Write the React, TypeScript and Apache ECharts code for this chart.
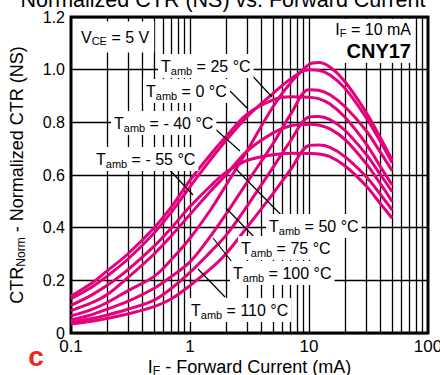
import React, { useEffect, useRef } from "react";
import * as echarts from "echarts";

// Forward current (mA) sample points shared by all curves
const IF_MA = [0.1, 0.15, 0.2, 0.3, 0.5, 0.7, 1, 1.5, 2, 3, 5, 7, 10, 12, 15, 20, 30, 40, 50];

// Normalized CTR values
const CTR_0 = [0.14, 0.19, 0.235, 0.3, 0.4, 0.48, 0.58, 0.68, 0.745, 0.83, 0.885, 0.897, 0.895, 0.89, 0.87, 0.82, 0.72, 0.63, 0.562];
const CTR_25 = [0.13, 0.175, 0.215, 0.28, 0.38, 0.46, 0.555, 0.66, 0.73, 0.82, 0.91, 0.965, 1.0, 0.998, 0.98, 0.93, 0.82, 0.725, 0.646];
const CTR_M55 = [0.105, 0.145, 0.18, 0.24, 0.33, 0.4, 0.48, 0.56, 0.61, 0.655, 0.677, 0.683, 0.682, 0.68, 0.67, 0.635, 0.56, 0.49, 0.436];
const CTR_M40 = [0.085, 0.115, 0.145, 0.21, 0.3, 0.37, 0.45, 0.54, 0.6, 0.69, 0.76, 0.787, 0.793, 0.79, 0.775, 0.735, 0.645, 0.565, 0.499];
const CTR_50 = [0.065, 0.09, 0.115, 0.16, 0.215, 0.28, 0.36, 0.47, 0.56, 0.69, 0.86, 0.95, 1.02, 1.027, 1.01, 0.955, 0.84, 0.74, 0.657];
const CTR_75 = [0.05, 0.07, 0.09, 0.12, 0.17, 0.215, 0.27, 0.37, 0.45, 0.57, 0.72, 0.83, 0.924, 0.922, 0.905, 0.86, 0.77, 0.685, 0.616];
const CTR_100 = [0.042, 0.055, 0.068, 0.09, 0.125, 0.17, 0.23, 0.31, 0.37, 0.48, 0.63, 0.73, 0.82, 0.822, 0.81, 0.77, 0.68, 0.6, 0.537];
const CTR_110 = [0.035, 0.045, 0.055, 0.072, 0.1, 0.13, 0.18, 0.245, 0.3, 0.4, 0.53, 0.62, 0.712, 0.714, 0.705, 0.67, 0.595, 0.525, 0.467];

const SERIES = [
  { name: "-55", values: CTR_M55 },
  { name: "-40", values: CTR_M40 },
  { name: "0", values: CTR_0 },
  { name: "25", values: CTR_25 },
  { name: "50", values: CTR_50 },
  { name: "75", values: CTR_75 },
  { name: "100", values: CTR_100 },
  { name: "110", values: CTR_110 },
];

// Vertical log grid lines (mA)
const X_GRID = [0.2, 0.3, 0.4, 0.5, 0.6, 0.7, 0.8, 0.9, 1, 2, 3, 4, 5, 6, 7, 8, 9, 10, 20, 30, 40, 50, 60, 70, 80, 90];

const FONT = "Liberation Sans, Arial, Helvetica, sans-serif";
const PINK = "#e5007d";

const tLabel = (temp: string) => `{t|T}{s|amb}{n| = ${temp} °C}`;
const richT = {
  t: { fontSize: 16, lineHeight: 19, fontFamily: FONT, fill: "#000" },
  s: { fontSize: 11, lineHeight: 11, fontFamily: FONT, fill: "#000", verticalAlign: "bottom" },
  n: { fontSize: 16, lineHeight: 19, fontFamily: FONT, fill: "#000" },
};

// annotation boxes: text, anchor x, y (pixels)
const TEMP_LABELS = [
  { temp: "25", x: 158, y: 66 },
  { temp: "0", x: 143, y: 91 },
  { temp: "- 40", x: 111, y: 123 },
  { temp: "- 55", x: 93, y: 159 },
  { temp: "50", x: 266, y: 226 },
  { temp: "75", x: 238, y: 248 },
  { temp: "100", x: 230, y: 273 },
  { temp: "110", x: 188, y: 310 },
];
const LEADERS = [
  [247, 70, 272, 97],
  [230, 91, 248, 109],
  [214, 128, 240, 151],
  [165, 165, 193, 195],
  [288, 222, 236, 169],
  [258, 241, 226, 208],
  [232, 262, 213, 238],
  [225, 297, 198, 269],
];

export default function App() {
  const ref = useRef<HTMLDivElement>(null);
  useEffect(() => {
    if (!ref.current) return;
    const chart = echarts.init(ref.current, null, { renderer: "svg" });
    const graphics: any[] = [];
    graphics.push({
      type: "text",
      x: 223,
      y: 0,
      z: 100,
      style: {
        text: "Normalized CTR (NS) vs. Forward Current",
        fontSize: 21.5,
        fontFamily: FONT,
        fill: "#000",
        align: "center",
        verticalAlign: "middle",
      },
    });
    LEADERS.forEach((l) =>
      graphics.push({
        type: "line",
        z: 90,
        shape: { x1: l[0], y1: l[1], x2: l[2], y2: l[3] },
        style: { stroke: "#000", lineWidth: 1.2 },
      })
    );
    TEMP_LABELS.forEach((lb) =>
      graphics.push({
        type: "text",
        x: lb.x,
        y: lb.y,
        z: 100,
        style: {
          text: tLabel(lb.temp),
          rich: richT,
          backgroundColor: "#fff",
          padding: [3, 3, 2, 3],
          align: "left",
          verticalAlign: "middle",
        },
      })
    );
    graphics.push({
      type: "text",
      x: 76,
      y: 37,
      z: 100,
      style: {
        text: "{t|V}{s|CE}{n| = 5 V}",
        rich: richT,
        backgroundColor: "#fff",
        padding: [6, 5, 6, 5],
        align: "left",
        verticalAlign: "middle",
      },
    });
    graphics.push({
      type: "rect",
      z: 95,
      shape: { x: 326, y: 19, width: 88, height: 44 },
      style: { fill: "#fff" },
    });
    graphics.push({
      type: "text",
      x: 411,
      y: 29,
      z: 100,
      style: {
        text: "{t|I}{s|F}{n| = 10 mA}",
        rich: richT,
        align: "right",
        verticalAlign: "middle",
      },
    });
    graphics.push({
      type: "text",
      x: 411,
      y: 51,
      z: 100,
      style: {
        text: "CNY17",
        fontSize: 20,
        fontWeight: "bold",
        fontFamily: FONT,
        fill: "#000",
        align: "right",
        verticalAlign: "middle",
      },
    });
    graphics.push({
      type: "text",
      x: 36,
      y: 356,
      z: 100,
      style: {
        text: "c",
        fontSize: 28,
        fontWeight: "bold",
        fontFamily: FONT,
        fill: "#e8291c",
        align: "center",
        verticalAlign: "middle",
      },
    });

    const lineSeries = SERIES.map((s) => ({
      name: s.name,
      type: "line",
      z: 5,
      data: IF_MA.map((x, i) => [x, s.values[i]]),
      smooth: 0.35,
      showSymbol: false,
      symbol: "none",
      lineStyle: { color: PINK, width: 3 },
    }));

    chart.setOption({
      animation: false,
      grid: {
        left: 71,
        right: 12,
        top: 17,
        bottom: 42,
        show: true,
        borderColor: "#000",
        borderWidth: 3,
        backgroundColor: "transparent",
        outerBoundsMode: "none",
        containLabel: false,
      },
      xAxis: {
        type: "log",
        logBase: 10,
        min: 0.1,
        max: 100,
        axisLine: { show: false },
        axisTick: { show: false },
        splitLine: { show: false },
        axisLabel: {
          fontSize: 17,
          fontFamily: FONT,
          color: "#000",
          margin: 5,
          showMaxLabel: true,
          formatter: (v: number) => (v < 1 ? v.toFixed(1) : String(Math.round(v))),
        },
        name: "{a|I}{b|F}{a| - Forward Current (mA)}",
        nameLocation: "middle",
        nameGap: 24,
        nameMoveOverlap: false,
        nameTextStyle: {
          rich: {
            a: { fontSize: 18, lineHeight: 20, fontFamily: FONT, color: "#000" },
            b: { fontSize: 12, lineHeight: 12, fontFamily: FONT, color: "#000", verticalAlign: "bottom" },
          },
        },
      },
      yAxis: {
        type: "value",
        min: 0,
        max: 1.2,
        interval: 0.2,
        axisLine: { show: false },
        axisTick: { show: false },
        splitLine: { show: true, lineStyle: { color: "#000", width: 1.3 } },
        axisLabel: {
          fontSize: 16,
          fontFamily: FONT,
          color: "#000",
          margin: 6,
          formatter: (v: number) => (v === 0 ? "0" : v.toFixed(1)),
        },
        name: "{a|CTR}{b|Norm}{a| - Normalized CTR (NS)}",
        nameLocation: "middle",
        nameGap: 44,
        nameMoveOverlap: false,
        nameRotate: 90,
        nameTextStyle: {
          rich: {
            a: { fontSize: 18, lineHeight: 20, fontFamily: FONT, color: "#000" },
            b: { fontSize: 12, lineHeight: 12, fontFamily: FONT, color: "#000", verticalAlign: "bottom" },
          },
        },
      },
      series: [
        {
          type: "line",
          z: 1,
          data: [],
          silent: true,
          markLine: {
            silent: true,
            symbol: ["none", "none"],
            label: { show: false },
            lineStyle: { color: "#000", width: 1.3, type: "solid" },
            data: X_GRID.map((v) => ({ xAxis: v })),
          },
        },
        ...lineSeries,
      ],
      graphic: graphics,
    });
    return () => chart.dispose();
  }, []);
  return <div ref={ref} style={{ width: 440, height: 375, position: "absolute", left: 0, top: 0 }} />;
}
